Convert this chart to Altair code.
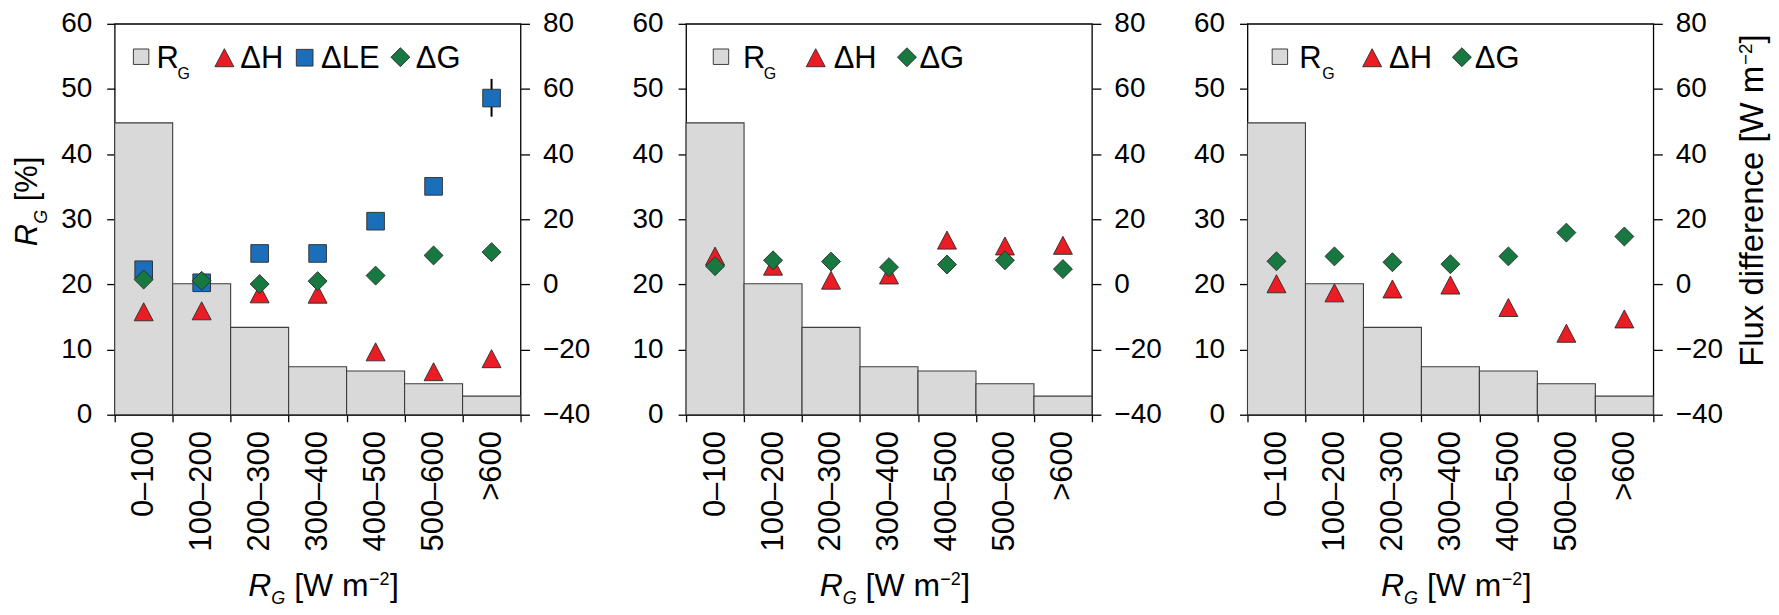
import altair as alt
import pandas as pd

# ---------------- data ----------------
cats = ["0–100", "100–200", "200–300", "300–400", "400–500", "500–600", ">600"]
rg_share = [44.8, 20.1, 13.4, 7.35, 6.7, 4.75, 2.85]

p1_dH = [-8.4, -8.1, -2.9, -3.0, -20.7, -26.8, -22.8]
p1_dLE = [4.5, 0.5, 9.5, 9.5, 19.4, 30.1, 57.2]
p1_dG = [1.5, 1.1, 0.1, 1.0, 2.7, 8.9, 9.9]
p1_err_cat = [">600"]
p1_err_lo = [51.5]
p1_err_hi = [63.1]

p2_dH = [8.7, 5.6, 1.3, 2.9, 13.6, 11.8, 12.0]
p2_dG = [5.6, 7.4, 7.0, 5.3, 6.1, 7.4, 4.7]

p3_dH = [0.2, -2.6, -1.4, -0.2, -7.1, -15.0, -10.6]
p3_dG = [7.1, 8.6, 6.8, 6.2, 8.6, 15.9, 14.7]

left_ticks = [0, 10, 20, 30, 40, 50, 60]
right_ticks = [-40, -20, 0, 20, 40, 60, 80]

# ---------------- style ----------------
RED = "#ec1c24"
BLUE = "#1b6fba"
GREEN = "#17793f"
GRAY = "#d9d9d9"
EDGE = "#2a2a2a"
TRI = "M0,-0.95L1,0.95L-1,0.95Z"
FONT = "Liberation Sans"
W, H = 407, 392
ONE = pd.DataFrame({"k": [0]})


def x_enc():
    return alt.X("cat:N", title=None,
                 scale=alt.Scale(domain=cats, paddingInner=0, paddingOuter=0),
                 axis=alt.Axis(labelAngle=270, labelAlign="right", labelBaseline="middle",
                               tickBand="extent", tickSize=7, labelPadding=9,
                               labelFontSize=31, domain=True))


def y_left():
    return alt.Y("share:Q", title=None,
                 scale=alt.Scale(domain=[0, 60], nice=False, zero=False),
                 axis=alt.Axis(orient="left", values=left_ticks, tickSize=8,
                               labelPadding=15, labelFontSize=28, domain=False))


def y_right():
    return alt.Y("val:Q", title=None,
                 scale=alt.Scale(domain=[-40, 80], nice=False, zero=False),
                 axis=alt.Axis(orient="right", values=right_ticks, tickSize=9,
                               labelPadding=13, labelFontSize=28, domain=False))


def pts(vals, shape, color, size):
    df = pd.DataFrame({"cat": cats, "val": vals})
    return alt.Chart(df).mark_point(shape=shape, filled=True, fill=color, stroke=EDGE,
                                    strokeWidth=0.9, size=size, opacity=1).encode(
        x=x_enc(), y=y_right())


def sym(x, y, shape, fill, size):
    return alt.Chart(ONE).mark_point(shape=shape, filled=True, fill=fill, stroke=EDGE,
                                     strokeWidth=0.9, size=size, opacity=1).encode(
        x=alt.value(x), y=alt.value(y))


def txt(s, x, y, size, angle=0, italic=False):
    kw = {"fontStyle": "italic"} if italic else {}
    return alt.Chart(ONE).mark_text(text=s, font=FONT, fontSize=size, align="left",
                                    baseline="alphabetic", angle=angle, color="black",
                                    **kw).encode(x=alt.value(x), y=alt.value(y))


def xtitle(x0, yb):
    return [txt("R", x0, yb, 32, italic=True),
            txt("G", x0 + 23, yb + 8, 18, italic=True),
            txt("[W m", x0 + 46, yb, 32),
            txt("−2", x0 + 121, yb - 11, 18),
            txt("]", x0 + 142, yb, 32)]


def legend(pos, with_le):
    (sq, r, g, tri, th, le_sq, le_t, dia, tg) = pos
    items = [sym(sq, 33, "square", GRAY, 240),
             txt("R", r, 44, 31), txt("G", g, 55, 16),
             sym(tri, 34, TRI, RED, 361), txt("ΔH", th, 44, 31)]
    if with_le:
        items += [sym(le_sq, 34, "square", BLUE, 280), txt("ΔLE", le_t, 44, 31)]
    items += [sym(dia, 33.5, "diamond", GREEN, 361), txt("ΔG", tg, 44, 31)]
    return items


def panel(dH, dG, dLE=None, leg=None, left_title=False, right_title=False):
    bars = alt.Chart(pd.DataFrame({"cat": cats, "share": rg_share})).mark_bar(
        fill=GRAY, stroke="#3c3c3c", strokeWidth=1.1).encode(x=x_enc(), y=y_left())
    layers = []
    if dLE is not None:
        err_df = pd.DataFrame({"cat": p1_err_cat, "val": p1_err_lo, "hi": p1_err_hi})
        layers.append(alt.Chart(err_df).mark_rule(color="black", strokeWidth=2).encode(
            x=x_enc(), y=y_right(), y2="hi:Q"))
    layers.append(pts(dH, TRI, RED, 361))
    if dLE is not None:
        layers.append(pts(dLE, "square", BLUE, 313))
    layers.append(pts(dG, "diamond", GREEN, 361))
    right = alt.layer(*layers)
    extras = legend(leg, dLE is not None) + xtitle(134, 574)
    if left_title:
        extras += [txt("R", -78, 223, 31, angle=270, italic=True),
                   txt("G", -68, 200.6, 18, angle=270, italic=True),
                   txt("[%]", -78, 178, 31, angle=270)]
    if right_title:
        extras += [txt("Flux difference [W m", W + 110, 344, 33, angle=270),
                   txt("−2", W + 99, 41.4, 19, angle=270),
                   txt("]", W + 110, 19.7, 33, angle=270)]
    return alt.layer(bars, right, *extras).resolve_scale(y="independent").properties(
        width=W, height=H)


p1 = panel(p1_dH, p1_dG, dLE=p1_dLE,
           leg=(26.5, 42, 63, 110, 126, 190.5, 207, 286.5, 302), left_title=True)
p2 = panel(p2_dH, p2_dG,
           leg=(35, 57, 78, 130, 148, 0, 0, 221.5, 234))
p3 = panel(p3_dH, p3_dG,
           leg=(32.5, 52, 75, 125, 142, 0, 0, 215, 228), right_title=True)

chart = alt.hconcat(alt.hconcat(p1, p2, spacing=40), p3, spacing=30).properties(
    padding={"left": 3, "top": 0, "right": 0, "bottom": 0}
).configure(font=FONT).configure_view(
    stroke="black", strokeWidth=1.3
).configure_axis(
    labelFont=FONT, labelColor="black", tickColor="black", domainColor="black",
    tickWidth=1.3, domainWidth=1.3, grid=False
)

chart.save("out.html", embed_options={"renderer": "svg", "actions": False})
